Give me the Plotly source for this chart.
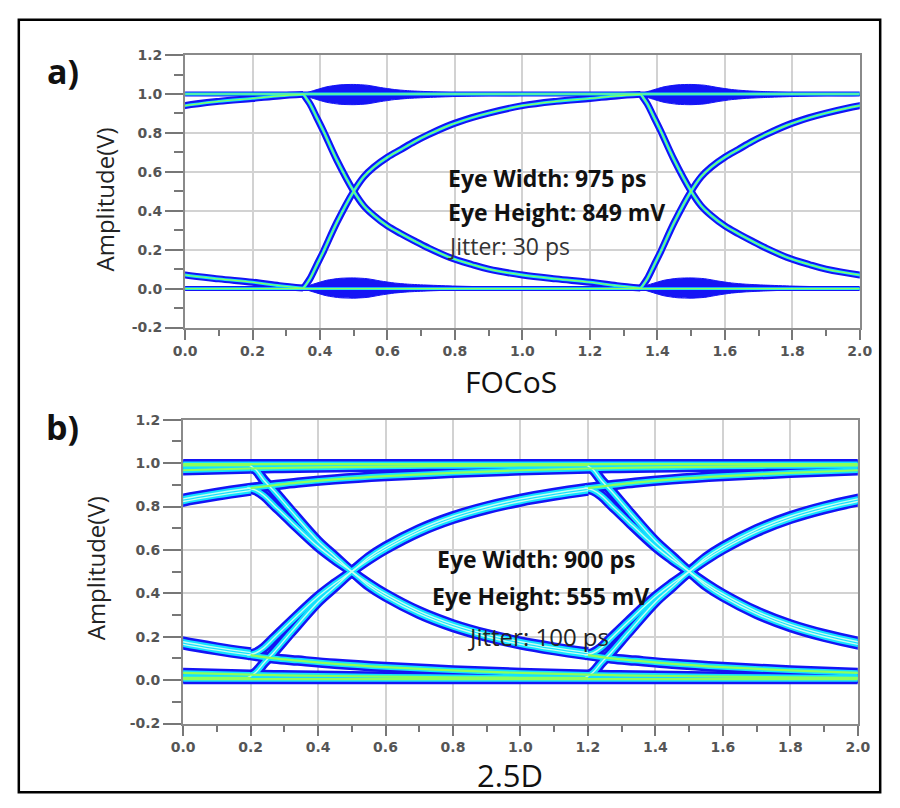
import plotly.graph_objects as go

# ---------------- data: FOCoS eye (panel a) ----------------
A_EDGE_X = [0.35, 0.355, 0.37, 0.39, 0.41, 0.45, 0.50, 0.53, 0.56, 0.60, 0.64, 0.68, 0.72,
            0.785, 0.85, 0.90, 1.00, 1.10, 1.20, 1.28, 1.35]
A_RISE_Y = [0.00, 0.012, 0.05, 0.12, 0.19, 0.34, 0.50, 0.575, 0.625, 0.675, 0.715, 0.755, 0.79,
            0.84, 0.878, 0.902, 0.94, 0.962, 0.977, 0.99, 0.998]
A_FALL_Y = [1.00, 0.988, 0.95, 0.88, 0.81, 0.66, 0.50, 0.425, 0.375, 0.322, 0.282, 0.245, 0.21,
            0.16, 0.124, 0.10, 0.07, 0.05, 0.033, 0.015, 0.003]
A_LEVEL_X = [0.0, 2.0]
A_HIGH_Y = [1.0, 1.0]
A_LOW_Y = [0.0, 0.0]
A_BLOB_X = [0.35, 0.38, 0.42, 0.46, 0.50, 0.54, 0.58, 0.62, 0.66, 0.72, 0.80, 0.90, 1.00]
A_BLOB_H = [0.004, 0.02, 0.04, 0.05, 0.052, 0.048, 0.036, 0.026, 0.02, 0.015, 0.01, 0.006, 0.003]

# ---------------- data: 2.5D eye (panel b) ----------------
B_EDGE_X = [0.19, 0.215, 0.24, 0.27, 0.32, 0.40, 0.45, 0.50, 0.55, 0.60, 0.70, 0.80, 0.90, 1.00, 1.10, 1.20]
B_RISE_A = [0.115, 0.125, 0.15, 0.195, 0.27, 0.385, 0.445, 0.50, 0.565, 0.615, 0.695, 0.755, 0.80, 0.835, 0.862, 0.885]
B_RISE_B = [0.01, 0.035, 0.08, 0.13, 0.22, 0.36, 0.43, 0.50, 0.555, 0.603, 0.683, 0.743, 0.788, 0.823, 0.85, 0.873]
B_FALL_A = [0.995, 0.97, 0.92, 0.87, 0.78, 0.64, 0.57, 0.50, 0.445, 0.397, 0.317, 0.257, 0.212, 0.177, 0.15, 0.127]
B_FALL_B = [0.885, 0.875, 0.85, 0.805, 0.73, 0.615, 0.555, 0.50, 0.435, 0.385, 0.305, 0.245, 0.20, 0.165, 0.138, 0.115]
B_SETTLE_X = [0.20, 0.27, 0.34, 0.45, 0.60, 0.80, 1.00, 1.20]
B_HSET_Y = [0.885, 0.898, 0.91, 0.925, 0.94, 0.955, 0.967, 0.975]
B_LSET_Y = [0.115, 0.10, 0.09, 0.075, 0.06, 0.045, 0.033, 0.025]
B_HSET2_Y = [0.975, 0.977, 0.979, 0.981, 0.984, 0.987, 0.989, 0.99]
B_LSET2_Y = [0.025, 0.023, 0.021, 0.019, 0.016, 0.013, 0.011, 0.01]
B_LEVEL_X = [0.0, 2.0]
B_HIGH_Y = [0.995, 0.995]
B_LOW_Y = [0.005, 0.005]

UI_SHIFTS = [-1.0, 0.0, 1.0]
TICKS = [round(0.2 * i, 1) for i in range(11)]
YTICKS = [-0.2, 0.0, 0.2, 0.4, 0.6, 0.8, 1.0, 1.2]

BLUE = "#1414f5"
CYAN = "#14e2ff"
GREEN = "#8cff5a"
PALE = "#c4fff0"

W, H = 900, 808


def px(x):
    return x / W


def py(y):
    return 1 - y / H


fig = go.Figure()


def add_line(xs, ys, color, width, xa, ya):
    fig.add_trace(go.Scatter(
        x=xs, y=ys, mode="lines", xaxis=xa, yaxis=ya,
        line=dict(color=color, width=width, shape="spline", smoothing=1.0),
        hoverinfo="skip", showlegend=False))


def add_blob(xs, hs, level, xa, ya):
    top = [level + h for h in hs]
    bot = [level - h for h in hs]
    fig.add_trace(go.Scatter(
        x=list(xs) + list(xs[::-1]), y=top + bot[::-1], mode="lines",
        xaxis=xa, yaxis=ya, fill="toself", fillcolor=BLUE,
        line=dict(color=BLUE, width=1, shape="spline", smoothing=0.6),
        hoverinfo="skip", showlegend=False))


# ---- panel a: FOCoS ----
a_curves = []
for k in UI_SHIFTS:
    sx = [x + k for x in A_EDGE_X]
    a_curves.append((sx, A_RISE_Y, 7))
    a_curves.append((sx, A_FALL_Y, 7))
a_curves.append((A_LEVEL_X, A_HIGH_Y, 5))
a_curves.append((A_LEVEL_X, A_LOW_Y, 5))

for k in [0.0, 1.0]:
    bx = [x + k for x in A_BLOB_X]
    add_blob(bx, A_BLOB_H, 0.997, "x", "y")
    add_blob(bx, A_BLOB_H, 0.003, "x", "y")

for xs, ys, w in a_curves:
    add_line(xs, ys, BLUE, w, "x", "y")
for xs, ys, w in a_curves:
    add_line(xs, ys, CYAN, 2.8, "x", "y")
for xs, ys, w in a_curves:
    add_line(xs, ys, GREEN, 1.1, "x", "y")

# ---- panel b: 2.5D ----
b_edges = []
b_levels = []
for k in UI_SHIFTS:
    ex = [x + k for x in B_EDGE_X]
    sx = [x + k for x in B_SETTLE_X]
    b_edges += [(ex, B_RISE_A), (ex, B_RISE_B), (ex, B_FALL_A), (ex, B_FALL_B)]
    b_levels += [(sx, B_HSET_Y), (sx, B_LSET_Y), (sx, B_HSET2_Y), (sx, B_LSET2_Y)]
b_levels += [(B_LEVEL_X, B_HIGH_Y), (B_LEVEL_X, B_LOW_Y)]

for xs, ys in b_levels + b_edges:
    add_line(xs, ys, BLUE, 10.5, "x2", "y2")
for xs, ys in b_levels + b_edges:
    add_line(xs, ys, CYAN, 5.5, "x2", "y2")
for xs, ys in b_edges:
    add_line(xs, ys, PALE, 1.4, "x2", "y2")
for xs, ys in b_levels:
    add_line(xs, ys, GREEN, 2.2, "x2", "y2")

# ---- axes ----
tickfont = dict(family="DejaVu Sans", size=14, color="#555555", weight="bold")


def xaxis(domain, anchor):
    return dict(domain=domain, anchor=anchor, range=[0, 2], tickvals=TICKS,
                ticktext=[f"{t:.1f}" for t in TICKS], tickfont=tickfont,
                ticks="outside", ticklen=10, tickwidth=1.5, tickcolor="#777777",
                minor=dict(dtick=0.1, tick0=0, ticks="outside", ticklen=6,
                           tickcolor="#777777", tickwidth=1.5, showgrid=False),
                showgrid=True, gridcolor="#d2d2d2", gridwidth=1.5,
                showline=True, linecolor="#8a8a8a", linewidth=2, mirror=True,
                zeroline=False, fixedrange=True)


def yaxis(domain, anchor):
    return dict(domain=domain, anchor=anchor, range=[-0.2, 1.2], tickvals=YTICKS,
                ticktext=[f"{t:.1f}" for t in YTICKS], tickfont=tickfont,
                ticks="outside", ticklen=18, tickwidth=1.5, tickcolor="#777777",
                minor=dict(dtick=0.1, tick0=0, ticks="outside", ticklen=9,
                           tickcolor="#777777", tickwidth=1.5, showgrid=False),
                showgrid=True, gridcolor="#d2d2d2", gridwidth=1.5,
                showline=True, linecolor="#8a8a8a", linewidth=2, mirror=True,
                zeroline=False, fixedrange=True)


fig.update_layout(
    width=W, height=H, margin=dict(l=0, r=0, t=0, b=0),
    paper_bgcolor="white", plot_bgcolor="white",
    xaxis=xaxis([px(178), px(872)], "y"),
    yaxis=yaxis([py(326), py(48)], "x"),
    xaxis2=xaxis([px(176), px(870)], "y2"),
    yaxis2=yaxis([py(730), py(420)], "x2"),
)

# ---- text ----
ann = []


def text(x, y, s, size, bold=False, angle=0, anchor="center", color="#111111"):
    ann.append(dict(x=px(x), y=py(y), xref="paper", yref="paper", text=s,
                    showarrow=False, xanchor=anchor, yanchor="middle", textangle=angle,
                    font=dict(family="Open Sans", size=size, color=color,
                              weight="bold" if bold else "normal")))


text(52, 64, "a)", 34, bold=True)
text(52, 427, "b)", 34, bold=True)
text(95, 195, "Amplitude(V)", 24, angle=-90, color="#222222")
text(86, 572, "Amplitude(V)", 24, angle=-90, color="#222222")
text(513, 381, "FOCoS", 30, color="#111111")
text(512, 782, "2.5D", 31, color="#111111")

text(446, 173, "Eye Width: 975 ps", 23, bold=True, anchor="left")
text(446, 208, "Eye Height: 849 mV", 23, bold=True, anchor="left")
text(446, 243, "Jitter: 30 ps", 23, anchor="left", color="#333333")

text(435, 562, "Eye Width: 900 ps", 23, bold=True, anchor="left")
text(430, 600, "Eye Height: 555 mV", 23, bold=True, anchor="left")
text(467, 641, "Jitter: 100 ps", 24, anchor="left", color="#222222")

fig.update_layout(annotations=ann)

# outer frame
fig.add_shape(type="rect", xref="paper", yref="paper",
              x0=px(7), x1=px(893), y0=py(800), y1=py(12),
              line=dict(color="black", width=2.5))

fig.write_html("out.html")
